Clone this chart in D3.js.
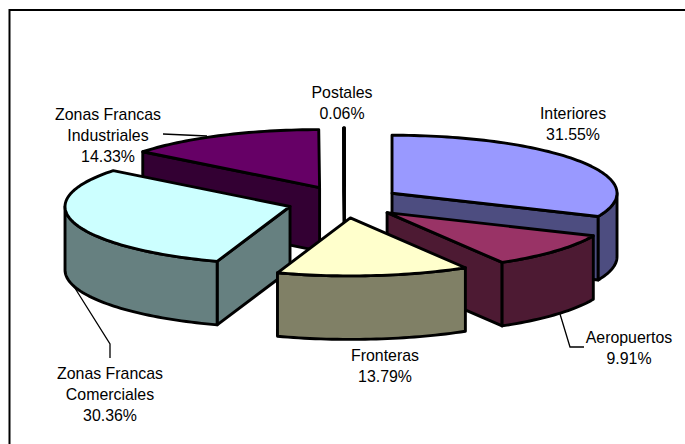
<!DOCTYPE html>
<html><head><meta charset="utf-8">
<script src="https://cdn.jsdelivr.net/npm/d3@7"></script>
<style>html,body{margin:0;padding:0;background:#fff}svg{display:block}text{font-family:"Liberation Sans",Arial,sans-serif;font-size:15.9px;fill:#000}</style>
</head><body><svg id="c" width="685" height="444"></svg>
<script>
const categories = ["Interiores","Aeropuertos","Fronteras","Zonas Francas Comerciales","Zonas Francas Industriales","Postales"];
const shares = [31.55,9.91,13.79,30.36,14.33,0.06];
const topColors = ["#9999ff","#993366","#ffffcc","#ccffff","#660066","#ff8080"];
const wallColors = ["#4d4d80","#4d1a33","#808066","#668080","#330033","#804040"];
const labelLines = [["Interiores","31.55%"],["Aeropuertos","9.91%"],["Fronteras","13.79%"],["Zonas Francas","Comerciales","30.36%"],["Zonas Francas","Industriales","14.33%"],["Postales","0.06%"]];
const labelPos = [[573,119],[629,343],[385,361],[110,379],[108,120],[342,98]];
const leaders = [null,[[560,314],[570,347],[584,347]],null,[[73,285],[110,344],[110,358]],[[163,134],[207,136]],null];
const drawOrder = [5,4,0,3,1,2];

const svg = d3.select("#c");
const cx=344.5, cy=202, thick=63.5;
const sx=d3.scaleLinear().domain([-1,1]).range([-225,225]);
const sy=d3.scaleLinear().domain([-1,1]).range([-58,58]);
const ex=d3.scaleLinear().domain([-1,1]).range([-56.8,56.8]);
const ey=d3.scaleLinear().domain([-1,1]).range([-16,16]);
const pie=d3.pie().sort(null).startAngle(0).endAngle(2*Math.PI);
const arcs=pie(shares);
const line=d3.line().curve(d3.curveLinear);

svg.append("path").attr("d",line([[9.5,444],[9.5,10],[685,10]])).attr("fill","none").attr("stroke","#000").attr("stroke-width",2);

function rim(a0,a1,ox,oy,dz){
  const n=Math.max(2,Math.ceil((a1-a0)*40));
  return d3.range(n+1).map(i=>{const t=a0+(a1-a0)*i/n;return [ox+sx(Math.sin(t)),oy+sy(-Math.cos(t))+dz];});
}
const strokeStyle=s=>s.attr("stroke","#000").attr("stroke-width",2.9).attr("stroke-linejoin","round");
drawOrder.forEach(i=>{
  const a=arcs[i], mid=(a.startAngle+a.endAngle)/2;
  const ox=cx+ex(Math.sin(mid)), oy=cy+ey(-Math.cos(mid));
  const g=svg.append("g");
  const wall=(pts)=>g.append("path").attr("d",line(pts)+"Z").attr("fill",wallColors[i]).call(strokeStyle);
  const radial=t=>{const p=[ox+sx(Math.sin(t)),oy+sy(-Math.cos(t))];
    wall([[ox,oy],p,[p[0],p[1]+thick],[ox,oy+thick]]);};
  if(Math.cos(a.startAngle-Math.PI/2)<0) radial(a.startAngle);
  if(Math.cos(a.endAngle+Math.PI/2)<0) radial(a.endAngle);
  const f0=Math.max(a.startAngle,Math.PI/2), f1=Math.min(a.endAngle,1.5*Math.PI);
  if(f1>f0){ wall(rim(f0,f1,ox,oy,0).concat(rim(f0,f1,ox,oy,thick).reverse())); }
  g.append("path").attr("d",line([[ox,oy]].concat(rim(a.startAngle,a.endAngle,ox,oy,0)))+"Z").attr("fill",topColors[i]).call(strokeStyle);
});

leaders.forEach(l=>{ if(l) svg.append("path").attr("d",line(l)).attr("fill","none").attr("stroke","#000").attr("stroke-width",1.3); });

labelLines.forEach((ls,i)=>{
  const t=svg.append("text").attr("text-anchor","middle");
  ls.forEach((s,j)=>t.append("tspan").attr("x",labelPos[i][0]).attr("y",labelPos[i][1]+j*21).text(s));
});
</script></body></html>
